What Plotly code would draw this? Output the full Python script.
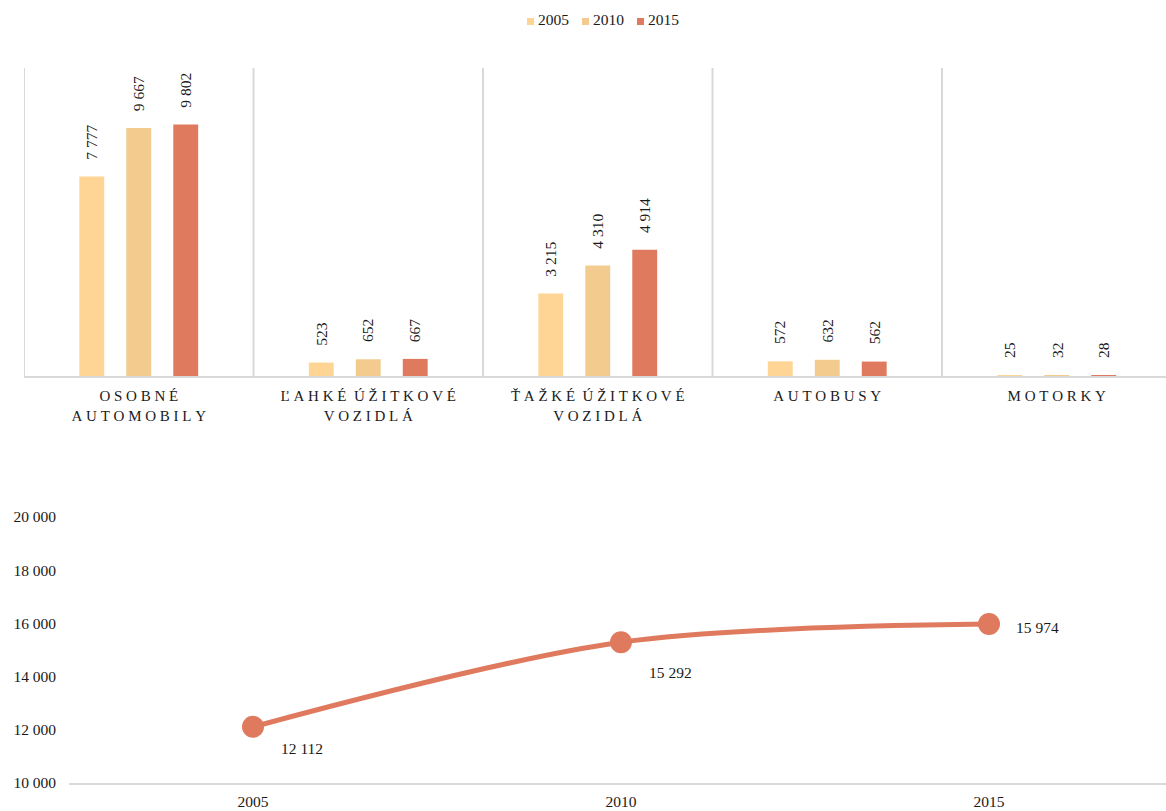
import plotly.graph_objects as go

# Vehicle categories (letter-spaced labels as drawn on the axis)
categories = ["OSOBNÉ<br>AUTOMOBILY", "ĽAHKÉ ÚŽITKOVÉ<br>VOZIDLÁ", "ŤAŽKÉ ÚŽITKOVÉ<br>VOZIDLÁ", "AUTOBUSY", "MOTORKY"]
years = ["2005", "2010", "2015"]
values_2005 = [7777, 523, 3215, 572, 25]
values_2010 = [9667, 652, 4310, 632, 32]
values_2015 = [9802, 667, 4914, 562, 28]

# Totals for the line chart
total_years = ["2005", "2010", "2015"]
totals = [12112, 15292, 15974]

colors = ["#FED595", "#F3CB8F", "#DF7A5F"]
FONT = "Liberation Serif"
TXT = "#1a1a1a"
W, H = 1166, 811
NB = "\u00a0"


def spaced(label):
    # widen the letter spacing of the category captions
    out = []
    for ln in label.split("<br>"):
        out.append((NB * 2).join(NB.join(list(w)) for w in ln.split(" ")))
    return "<br>".join(out)


def fmt(v):
    return f"{v:,}".replace(",", " ")


cat_labels = [spaced(c) for c in categories]

fig = go.Figure()
series = [values_2005, values_2010, values_2015]
for yr, vals, col in zip(years, series, colors):
    fig.add_trace(go.Bar(
        x=cat_labels, y=vals, name=yr, marker=dict(color=col, line=dict(width=0)),
        xaxis="x", yaxis="y", hoverinfo="skip", showlegend=False,
    ))

# rotated value labels above each bar
shifts = [-47, 0, 47]
for vals, dx in zip(series, shifts):
    for i, v in enumerate(vals):
        fig.add_annotation(
            x=i, y=v, xref="x", yref="y", text=fmt(v), showarrow=False,
            textangle=-90, xanchor="center", yanchor="bottom",
            xshift=dx, yshift=15, font=dict(family=FONT, size=15.5, color=TXT),
        )

# compact legend row: small colour square followed by the year
legend_x = [527, 582, 637]
for yr, col, lx in zip(years, colors, legend_x):
    fig.add_shape(type="rect", xref="paper", yref="paper",
                  x0=lx / W, x1=(lx + 7) / W, y0=(H - 25) / H, y1=(H - 18) / H,
                  fillcolor=col, line=dict(width=0))
    fig.add_annotation(
        x=(lx + 9) / W, y=(H - 20) / H, xref="paper", yref="paper", xanchor="left", yanchor="middle",
        text=yr, showarrow=False, font=dict(family=FONT, size=15.5, color=TXT),
    )

fig.add_trace(go.Scatter(
    x=total_years, y=totals, mode="lines+markers", xaxis="x2", yaxis="y2",
    line=dict(color="#DF7A5F", width=5, shape="spline", smoothing=0.9),
    marker=dict(size=22, color="#DF7A5F"), showlegend=False, hoverinfo="skip",
))

label_shift = [(49, -22), (49, -30), (48, -3)]
for i, (v, (dx, dy)) in enumerate(zip(totals, label_shift)):
    fig.add_annotation(
        x=i, y=v, xref="x2", yref="y2", text=fmt(v), showarrow=False,
        xshift=dx, yshift=dy, font=dict(family=FONT, size=15.5, color=TXT),
    )

# separators between vehicle groups
for i in range(5):
    fig.add_shape(type="line", xref="x", yref="y", x0=i - 0.5, x1=i - 0.5,
                  y0=0, y1=12000, line=dict(color="#D9D9D9", width=2), layer="below")

top_dom_x = [24 / W, 1]
top_dom_y = [(H - 376) / H, (H - 68) / H]
bot_dom_x = [69 / W, 1]
bot_dom_y = [(H - 783) / H, (H - 517) / H]

fig.update_layout(
    width=W, height=H, margin=dict(l=0, r=0, t=0, b=0, autoexpand=False),
    paper_bgcolor="white", plot_bgcolor="white",
    font=dict(family=FONT, size=15.5, color=TXT),
    separators=". ", showlegend=False,
    barmode="group", bargap=0.386, bargroupgap=0.47,
    xaxis=dict(domain=top_dom_x, anchor="y", type="category", range=[-0.5, 4.5 - 5.5 / 229.5],
               showline=True, linecolor="#D9D9D9", linewidth=2, showgrid=False,
               ticks="", ticklabelstandoff=5,
               tickfont=dict(family=FONT, size=15, color=TXT), fixedrange=True),
    yaxis=dict(domain=top_dom_y, anchor="x", range=[0, 12000], visible=False, fixedrange=True),
    xaxis2=dict(domain=bot_dom_x, anchor="y2", type="category", range=[-0.5, 2.5 - 7 / 368],
                showline=True, linecolor="#D9D9D9", linewidth=2, showgrid=False,
                ticks="", ticklabelstandoff=3,
                tickfont=dict(family=FONT, size=15.5, color=TXT), fixedrange=True),
    yaxis2=dict(domain=bot_dom_y, anchor="x2", range=[10000, 20000], dtick=2000,
                showgrid=False, zeroline=False, showline=False, ticks="",
                tickformat=",d", fixedrange=True, ticklabelstandoff=12,
                tickfont=dict(family=FONT, size=15.5, color=TXT)),
)

fig.write_html("out.html")
